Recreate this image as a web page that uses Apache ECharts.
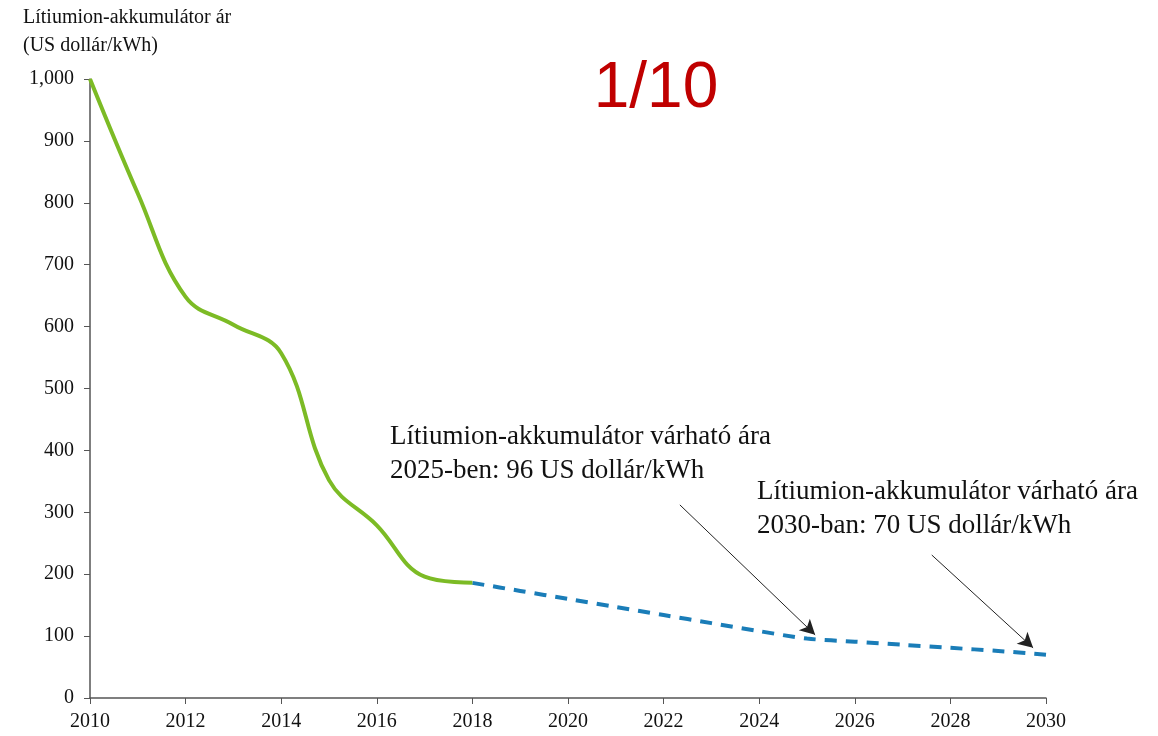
<!DOCTYPE html>
<html>
<head>
<meta charset="utf-8">
<script src="https://cdn.jsdelivr.net/npm/echarts@6/dist/echarts.min.js"></script>
<style>
  html, body { margin: 0; padding: 0; background: #fff; }
  #chart { width: 1158px; height: 736px; }
</style>
</head>
<body>
<div id="chart"></div>
<script>
// historical prices (US dollar / kWh)
var histYears = [2010, 2011, 2012, 2013, 2014, 2015, 2016, 2017, 2018];
var histPrice = [1000, 815, 648, 603, 557, 352, 279, 196, 186];

// forecast
var fcYears = [2018, 2019, 2020, 2021, 2022, 2023, 2024, 2025, 2026, 2027, 2028, 2029, 2030];
var fcPrice = [186, 173, 160, 147, 134, 121, 108, 96, 91, 86, 81, 76, 70];

// arrows of the two notes, in data units [year, price]
var arrow2025 = [[2022.34, 312], [2025.17, 102]];
var arrow2030 = [[2027.61, 231], [2029.73, 81]];

function pairs(xs, ys) {
  return xs.map(function (x, i) { return [x, ys[i]]; });
}

var serif = '"Liberation Serif", "Times New Roman", serif';

window.onload = function () {
  var myChart = echarts.init(document.getElementById('chart'));

  var option = {
    animation: false,
    title: {
      text: '1/10',
      left: 651,
      top: 52,
      textAlign: 'center',
      textStyle: {
        color: '#c00000',
        fontSize: 64,
        fontWeight: 'normal',
        fontFamily: '"Liberation Sans", Arial, sans-serif'
      }
    },
    grid: { left: 90, right: 112, top: 79, bottom: 38 },
    xAxis: {
      type: 'value',
      min: 2010,
      max: 2030,
      interval: 2,
      splitLine: { show: false },
      axisLine: { lineStyle: { color: '#555', width: 1.5 } },
      axisTick: { length: 6, lineStyle: { color: '#555' } },
      axisLabel: {
        color: '#111', fontSize: 20, fontFamily: serif, margin: 14,
        formatter: function (v) { return String(v); }
      }
    },
    yAxis: {
      type: 'value',
      min: 0,
      max: 1000,
      interval: 100,
      splitLine: { show: false },
      axisLine: { show: true, lineStyle: { color: '#555', width: 1.5 } },
      axisTick: { show: true, length: 6, lineStyle: { color: '#555' } },
      axisLabel: {
        color: '#111', fontSize: 20, fontFamily: serif, margin: 16,
        formatter: function (v) { return v >= 1000 ? '1,000' : String(v); }
      }
    },
    graphic: [
      {
        type: 'text', left: 23, top: 4,
        style: {
          text: 'Lítiumion-akkumulátor ár\n(US dollár/kWh)',
          font: '20px ' + serif, fill: '#111', lineHeight: 28
        }
      },
      {
        type: 'text', left: 390, top: 420,
        style: {
          text: 'Lítiumion-akkumulátor várható ára\n2025-ben: 96 US dollár/kWh',
          font: '27px ' + serif, fill: '#111', lineHeight: 34
        }
      },
      {
        type: 'text', left: 757, top: 475,
        style: {
          text: 'Lítiumion-akkumulátor várható ára\n2030-ban: 70 US dollár/kWh',
          font: '27px ' + serif, fill: '#111', lineHeight: 34
        }
      }
    ],
    series: [
      {
        type: 'line',
        data: pairs(histYears, histPrice),
        smooth: 0.4,
        showSymbol: false,
        lineStyle: { color: '#7cbb25', width: 4 },
        z: 3
      },
      {
        type: 'line',
        data: pairs(fcYears, fcPrice),
        smooth: 0.3,
        showSymbol: false,
        lineStyle: { color: '#1a7db8', width: 4, type: [12, 9] },
        z: 2,
        markLine: {
          silent: true,
          symbol: ['none', 'arrow'],
          symbolSize: [12, 15],
          label: { show: false },
          lineStyle: { color: '#222', width: 1, type: 'solid' },
          data: [
            [{ coord: arrow2025[0] }, { coord: arrow2025[1] }],
            [{ coord: arrow2030[0] }, { coord: arrow2030[1] }]
          ]
        }
      }
    ]
  };

  option && myChart.setOption(option);
};
</script>
</body>
</html>
